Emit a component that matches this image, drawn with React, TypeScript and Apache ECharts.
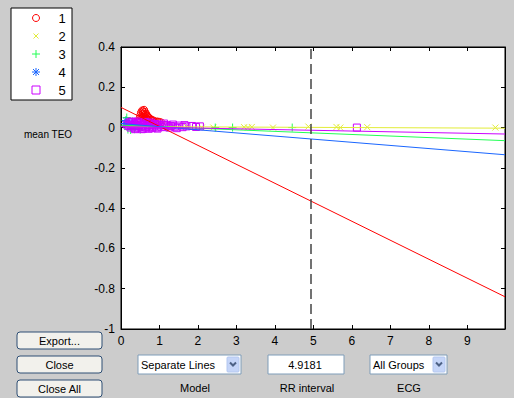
import { useEffect, useRef } from 'react';
import * as echarts from 'echarts';

// ---- data ----
const groupNames = ['1', '2', '3', '4', '5'];
const groupColors = ['#ff0000', '#e2ec38', '#22ff55', '#1a66ff', '#cc00ff'];

const group1: [number, number][] = [
  [0.45, 0.03], [0.48, 0.045], [0.5, 0.06], [0.52, 0.075], [0.53, 0.035], [0.55, 0.085],
  [0.55, 0.05], [0.57, 0.08], [0.58, 0.07], [0.6, 0.088], [0.6, 0.045], [0.62, 0.078],
  [0.62, 0.03], [0.63, 0.065], [0.65, 0.07], [0.67, 0.06], [0.68, 0.04], [0.7, 0.055],
  [0.72, 0.05], [0.73, 0.03], [0.75, 0.045], [0.78, 0.04], [0.8, 0.038], [0.85, 0.035],
  [0.88, 0.025], [0.9, 0.03], [0.95, 0.03], [1.0, 0.028], [1.05, 0.025],
  [0.56, 0.065], [0.59, 0.055], [0.64, 0.05], [0.66, 0.045], [0.7, 0.04],
];
const group2: [number, number][] = [
  [0.2, 0.01], [0.4, 0.005], [0.8, 0.0], [1.3, 0.0], [1.7, 0.005], [2.1, 0.0], [2.4, 0.0],
  [3.2, 0.002], [3.3, 0.0], [3.4, 0.003], [3.95, 0.0], [4.87, 0.005], [5.6, 0.003],
  [5.7, 0.0], [6.4, 0.002], [9.73, 0.0],
];
const group3: [number, number][] = [
  [0.12, 0.035], [0.15, 0.05], [0.18, -0.01], [0.22, 0.02], [0.25, -0.012], [0.3, 0.03],
  [0.35, -0.008], [0.4, 0.01], [0.5, -0.01], [0.9, 0.0], [1.2, 0.0], [2.45, 0.0],
  [2.9, 0.0], [4.45, 0.0],
];
const group4: [number, number][] = [
  [0.1, 0.02], [0.13, 0.035], [0.16, 0.01], [0.2, 0.028], [0.24, 0.005], [0.28, 0.02],
  [0.32, 0.012], [0.38, 0.004],
];
const group5: [number, number][] = [
  [0.15, 0.015], [0.2, 0.008], [0.22, 0.025], [0.25, 0.0], [0.28, 0.012], [0.3, 0.028],
  [0.33, 0.006], [0.35, 0.018], [0.38, -0.004], [0.4, 0.022], [0.42, 0.008], [0.45, 0.0],
  [0.48, 0.015], [0.5, 0.025], [0.52, 0.004], [0.55, 0.014], [0.58, -0.005], [0.6, 0.02],
  [0.63, 0.006], [0.65, 0.0], [0.68, 0.014], [0.7, 0.022], [0.73, 0.004], [0.75, 0.012],
  [0.8, -0.003], [0.82, 0.015], [0.85, 0.005], [0.9, 0.018], [0.93, 0.0], [0.97, 0.01],
  [1.0, 0.014], [1.05, 0.002], [1.1, 0.012], [1.15, 0.005], [1.2, 0.012], [1.25, 0.0],
  [1.3, 0.008], [1.4, 0.004], [1.5, 0.01], [1.6, 0.002], [1.7, 0.006], [1.85, 0.008],
  [1.95, 0.003], [2.05, 0.006], [6.13, 0.0],
  [0.27, 0.03], [0.44, 0.03], [0.62, 0.028], [0.78, 0.025], [0.36, -0.008], [0.54, -0.008],
  [0.72, -0.006], [0.95, -0.005], [1.12, 0.02], [1.35, 0.015], [1.45, -0.003], [1.65, 0.012],
];
const groupPoints = [group1, group2, group3, group4, group5];

// fitted lines (start at x = 0, end at x = xMax)
const fitStart = [0.1, 0.005, 0.012, 0.02, 0.005];
const fitEnd = [-0.84, -0.003, -0.065, -0.135, -0.032];

const xMin = 0;
const xMax = 9.98;
const yMin = -1;
const yMax = 0.4;
const rrInterval = 4.9181;

const plusPath = 'path://M5,0L5,10M0,5L10,5';
const crossPath = 'path://M0,0L10,10M10,0L0,10';
const starPath = 'path://M5,0L5,10M0,5L10,5M1.6,1.6L8.4,8.4M8.4,1.6L1.6,8.4';
const groupSymbols = ['circle', crossPath, plusPath, starPath, 'rect'];
const groupSizes = [7, 6, 8, 8, 7];

const FONT = '"Liberation Sans", Arial, sans-serif';

function button(x: number, y: number, w: number, h: number, label: string) {
  return [
    {
      type: 'rect',
      shape: { x, y, width: w, height: h, r: 3 },
      style: { fill: '#f2f1ec', stroke: '#2f4f75', lineWidth: 1 },
    },
    {
      type: 'text',
      x: x + w / 2,
      y: y + h / 2,
      style: { text: label, fill: '#000', font: `11px ${FONT}`, align: 'center', verticalAlign: 'middle' },
    },
  ];
}

function dropdown(x: number, y: number, w: number, h: number, label: string) {
  const ax = x + w - 14;
  return [
    { type: 'rect', shape: { x, y, width: w, height: h }, style: { fill: '#fff', stroke: '#7f9db9', lineWidth: 1 } },
    {
      type: 'text',
      x: x + 3,
      y: y + h / 2,
      style: { text: label, fill: '#000', font: `11px ${FONT}`, align: 'left', verticalAlign: 'middle' },
    },
    { type: 'rect', shape: { x: ax, y: y + 2, width: 12, height: h - 4, r: 1 }, style: { fill: '#c5d5f8', stroke: '#b4c8f0', lineWidth: 1 } },
    {
      type: 'polyline',
      shape: { points: [[ax + 3, y + h / 2 - 2], [ax + 6, y + h / 2 + 1], [ax + 9, y + h / 2 - 2]] },
      style: { stroke: '#4d6185', lineWidth: 2, fill: 'none' },
    },
  ];
}

function legendGraphics() {
  const els: any[] = [
    { type: 'rect', shape: { x: 11, y: 8, width: 61, height: 92 }, style: { fill: '#fff', stroke: '#000', lineWidth: 1 } },
  ];
  const cx = 36;
  groupNames.forEach((name, i) => {
    const cy = 18 + i * 18;
    const c = groupColors[i];
    const st = { stroke: c, lineWidth: 1, fill: 'none' };
    if (i === 0) els.push({ type: 'circle', shape: { cx, cy, r: 3.5 }, style: st });
    if (i === 1) {
      els.push({ type: 'line', shape: { x1: cx - 2.5, y1: cy - 2.5, x2: cx + 2.5, y2: cy + 2.5 }, style: st });
      els.push({ type: 'line', shape: { x1: cx + 2.5, y1: cy - 2.5, x2: cx - 2.5, y2: cy + 2.5 }, style: st });
    }
    if (i === 2 || i === 3) {
      els.push({ type: 'line', shape: { x1: cx - 4, y1: cy, x2: cx + 4, y2: cy }, style: st });
      els.push({ type: 'line', shape: { x1: cx, y1: cy - 4, x2: cx, y2: cy + 4 }, style: st });
      if (i === 3) {
        els.push({ type: 'line', shape: { x1: cx - 3, y1: cy - 3, x2: cx + 3, y2: cy + 3 }, style: st });
        els.push({ type: 'line', shape: { x1: cx + 3, y1: cy - 3, x2: cx - 3, y2: cy + 3 }, style: st });
      }
    }
    if (i === 4) els.push({ type: 'rect', shape: { x: cx - 4, y: cy - 4, width: 8, height: 8 }, style: st });
    els.push({
      type: 'text',
      x: 62,
      y: cy,
      style: { text: name, fill: '#000', font: `13px ${FONT}`, align: 'center', verticalAlign: 'middle' },
    });
  });
  return els;
}

export default function App() {
  const ref = useRef<HTMLDivElement>(null);

  useEffect(() => {
    document.body.style.margin = '0';
    if (!ref.current) return;
    const chart = echarts.init(ref.current, null, { renderer: 'svg' });

    const scatterSeries = groupNames.map((name, i) => ({
      name,
      type: 'scatter',
      data: groupPoints[i],
      symbol: groupSymbols[i],
      symbolSize: groupSizes[i],
      itemStyle: { color: 'rgba(0,0,0,0)', borderColor: groupColors[i], borderWidth: 1, opacity: 1 },
      silent: true,
      z: 2,
    }));

    const lineSeries = groupNames.map((name, i) => ({
      name: name + ' fit',
      type: 'line',
      data: [
        [xMin, fitStart[i]],
        [xMax, fitEnd[i]],
      ],
      showSymbol: false,
      symbol: 'none',
      lineStyle: { color: groupColors[i], width: 1 },
      silent: true,
      z: 3,
      ...(i === 0
        ? {
            markLine: {
              silent: true,
              symbol: 'none',
              label: { show: false },
              lineStyle: { color: '#444', width: 1.5, type: [10, 5] },
              data: [{ xAxis: rrInterval }],
            },
          }
        : {}),
    }));

    const axisCommon = {
      axisLine: { show: true, onZero: false, lineStyle: { color: '#000', width: 1 } },
      axisTick: { show: true, inside: true, length: 4, lineStyle: { color: '#000' } },
      splitLine: { show: false },
    };

    chart.setOption({
      animation: false,
      backgroundColor: '#cccccc',
      grid: {
        left: 121,
        top: 47,
        width: 384,
        height: 282,
        show: true,
        backgroundColor: '#ffffff',
        borderColor: '#000',
        borderWidth: 1,
      },
      xAxis: [
        {
          type: 'value',
          min: xMin,
          max: xMax,
          interval: 1,
          position: 'bottom',
          ...axisCommon,
          axisLabel: {
            color: '#000',
            fontFamily: FONT,
            fontSize: 12,
            margin: 6,
            showMaxLabel: false,
            formatter: (v: number) => (Math.abs(v - Math.round(v)) < 1e-6 ? String(Math.round(v)) : ''),
          },
        },
        {
          type: 'value',
          min: xMin,
          max: xMax,
          interval: 1,
          position: 'top',
          ...axisCommon,
          axisLabel: { show: false },
        },
      ],
      yAxis: [
        {
          type: 'value',
          min: yMin,
          max: yMax,
          interval: 0.2,
          position: 'left',
          ...axisCommon,
          axisLabel: {
            color: '#000',
            fontFamily: FONT,
            fontSize: 12,
            margin: 6,
            formatter: (v: number) => {
              const r = Math.round(v * 10) / 10;
              return r === 0 ? '0' : String(r);
            },
          },
        },
        {
          type: 'value',
          min: yMin,
          max: yMax,
          interval: 0.2,
          position: 'right',
          ...axisCommon,
          axisLabel: { show: false },
        },
      ],
      series: [...scatterSeries, ...lineSeries],
      graphic: [
        ...legendGraphics(),
        {
          type: 'text',
          x: 48,
          y: 134,
          style: { text: 'mean TEO', fill: '#000', font: `10px ${FONT}`, align: 'center', verticalAlign: 'middle' },
        },
        ...button(17, 332, 85, 17, 'Export...'),
        ...button(17, 356, 85, 17, 'Close'),
        ...button(17, 380, 85, 17, 'Close All'),
        ...dropdown(138, 355, 103, 19, 'Separate Lines'),
        { type: 'rect', shape: { x: 268, y: 355, width: 76, height: 19 }, style: { fill: '#fff', stroke: '#7f9db9', lineWidth: 1 } },
        {
          type: 'text',
          x: 305,
          y: 364.5,
          style: { text: String(rrInterval), fill: '#000', font: `11px ${FONT}`, align: 'center', verticalAlign: 'middle' },
        },
        ...dropdown(370, 355, 77, 19, 'All Groups'),
        {
          type: 'text',
          x: 195,
          y: 388,
          style: { text: 'Model', fill: '#000', font: `11px ${FONT}`, align: 'center', verticalAlign: 'middle' },
        },
        {
          type: 'text',
          x: 307,
          y: 388,
          style: { text: 'RR interval', fill: '#000', font: `11px ${FONT}`, align: 'center', verticalAlign: 'middle' },
        },
        {
          type: 'text',
          x: 409,
          y: 388,
          style: { text: 'ECG', fill: '#000', font: `11px ${FONT}`, align: 'center', verticalAlign: 'middle' },
        },
      ],
    });

    return () => chart.dispose();
  }, []);

  return <div ref={ref} style={{ width: 514, height: 398 }} />;
}
